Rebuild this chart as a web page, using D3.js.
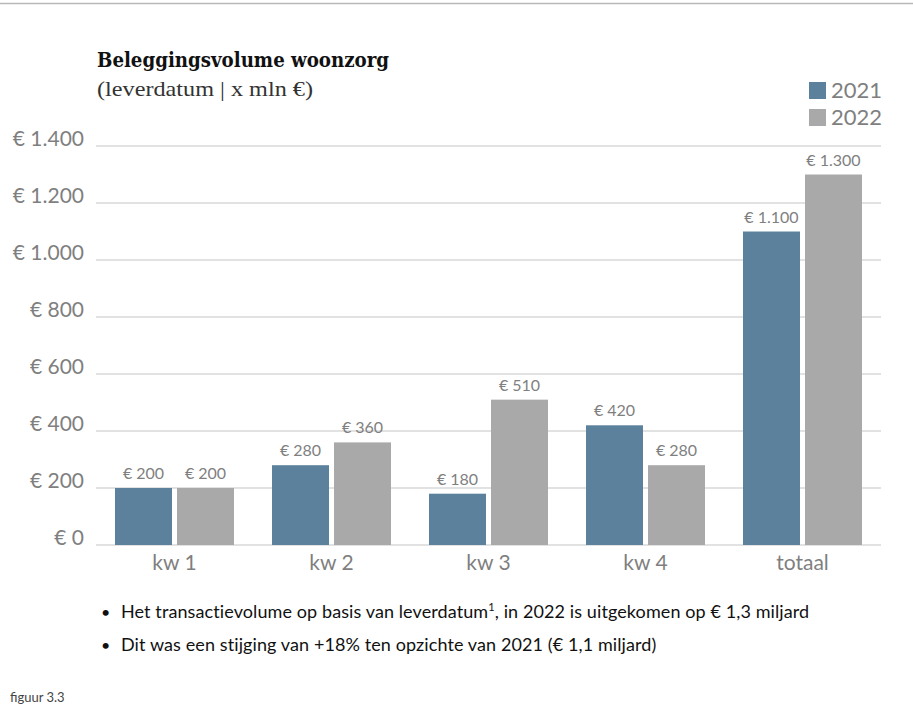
<!DOCTYPE html>
<html>
<head>
<meta charset="utf-8">
<script src="https://cdn.jsdelivr.net/npm/d3@7/dist/d3.min.js"></script>
<style>
  html, body { margin: 0; padding: 0; background: #fff; }
  svg { display: block; }
</style>
</head>
<body>
<svg id="chart" width="913" height="718"></svg>
<script>
// Beleggingsvolume woonzorg, per kwartaal en totaal (x mln €)
const categories = ["kw 1", "kw 2", "kw 3", "kw 4", "totaal"];
const seriesNames = ["2021", "2022"];
const values2021 = [200, 280, 180, 420, 1100];
const values2022 = [200, 360, 510, 280, 1300];
const yTicks = [0, 200, 400, 600, 800, 1000, 1200, 1400];
const bullets = [
  ["Het transactievolume op basis van leverdatum", "1", ", in 2022 is uitgekomen op € 1,3 miljard"],
  ["Dit was een stijging van +18% ten opzichte van 2021 (€ 1,1 miljard)", "", ""]
];

const colors = { "2021": "#5b819c", "2022": "#a9a9a9" };
const nl = d3.formatLocale({ decimal: ",", thousands: ".", grouping: [3], currency: ["€ ", ""] });
const euro = v => "€ " + nl.format(",")(v);

const svg = d3.select("#chart");
const font = "Lato, 'Open Sans', sans-serif";

// top rule
svg.append("line").attr("x1", 0).attr("x2", 913).attr("y1", 3.5).attr("y2", 3.5)
  .attr("stroke", "#b8b8b8").attr("stroke-width", 1.5);

// titles
svg.append("text").attr("x", 97).attr("y", 67)
  .attr("font-family", "'DejaVu Serif', serif").attr("font-stretch", "condensed")
  .attr("font-weight", "bold").attr("font-size", 20).attr("fill", "#111")
  .attr("textLength", 292).attr("lengthAdjust", "spacingAndGlyphs")
  .text("Beleggingsvolume woonzorg");
svg.append("text").attr("x", 97).attr("y", 96)
  .attr("font-family", "'Liberation Serif', serif")
  .attr("font-size", 21).attr("fill", "#333")
  .attr("textLength", 216).attr("lengthAdjust", "spacingAndGlyphs")
  .text("(leverdatum | x mln €)");

const x0 = d3.scaleBand().domain(categories).range([96, 881]);
const x1 = d3.scaleBand().domain(seriesNames).range([0, 119]).paddingInner(5 / 62);
const y = d3.scaleLinear().domain([0, 1400]).range([545, 146]);
const groupOffset = (x0.bandwidth() - 119) / 2;

// gridlines + y labels
const yAxis = d3.axisLeft(y).tickValues(yTicks).tickSize(0).tickPadding(12).tickFormat(euro);
const gy = svg.append("g").attr("transform", "translate(96,0)").call(yAxis);
gy.select(".domain").remove();
gy.selectAll("text").attr("font-family", font).attr("font-size", 21).attr("fill", "#7f7f7f")
  .attr("dy", "-0.02em");
svg.append("g").selectAll("line").data(yTicks).join("line")
  .attr("x1", 96).attr("x2", 881).attr("y1", d => y(d)).attr("y2", d => y(d))
  .attr("stroke", "#d9d9d9").attr("stroke-width", 1.5);

// bars
const rows = categories.map((c, i) => ({ cat: c, vals: [
  { s: "2021", v: values2021[i] }, { s: "2022", v: values2022[i] } ] }));
const groups = svg.append("g").selectAll("g").data(rows).join("g")
  .attr("transform", d => `translate(${x0(d.cat) + groupOffset},0)`);
groups.selectAll("rect").data(d => d.vals).join("rect")
  .attr("x", d => x1(d.s)).attr("width", x1.bandwidth())
  .attr("y", d => y(d.v)).attr("height", d => y(0) - y(d.v))
  .attr("fill", d => colors[d.s]);
groups.selectAll("text").data(d => d.vals).join("text")
  .attr("x", d => x1(d.s) + x1.bandwidth() / 2).attr("y", d => y(d.v) - 9)
  .attr("text-anchor", "middle").attr("font-family", font).attr("font-size", 16)
  .attr("fill", "#7f7f7f").text(d => euro(d.v));

// x axis labels
const xAxis = d3.axisBottom(x0).tickSize(0).tickPadding(10);
const gx = svg.append("g").attr("transform", `translate(0,${y(0)})`).call(xAxis);
gx.select(".domain").remove();
gx.selectAll("text").attr("font-family", font).attr("font-size", 21).attr("fill", "#7f7f7f");

// legend
const lg = svg.append("g").selectAll("g").data(seriesNames).join("g")
  .attr("transform", (d, i) => `translate(809,${82 + i * 27})`);
lg.append("rect").attr("width", 17).attr("height", 17).attr("fill", d => colors[d]);
lg.append("text").attr("x", 22).attr("y", 16).attr("font-family", font)
  .attr("font-size", 22).attr("fill", "#7f7f7f").text(d => d);

// bullet notes
const bt = svg.append("g").selectAll("g").data(bullets).join("g")
  .attr("transform", (d, i) => `translate(0,${618 + i * 33})`);
bt.append("text").attr("x", 101).attr("font-family", font).attr("font-size", 16)
  .attr("fill", "#111").text("•");
const t = bt.append("text").attr("x", 121).attr("font-family", font).attr("font-size", 18)
  .attr("fill", "#111").attr("letter-spacing", 0.1);
t.append("tspan").text(d => d[0]);
t.append("tspan").attr("dy", -7).attr("font-size", 11).text(d => d[1]);
t.append("tspan").attr("dy", d => d[1] ? 7 : 0).text(d => d[2]);

svg.append("text").attr("x", 10).attr("y", 702).attr("font-family", font)
  .attr("font-size", 13).attr("fill", "#444").text("figuur 3.3");
</script>
</body>
</html>
